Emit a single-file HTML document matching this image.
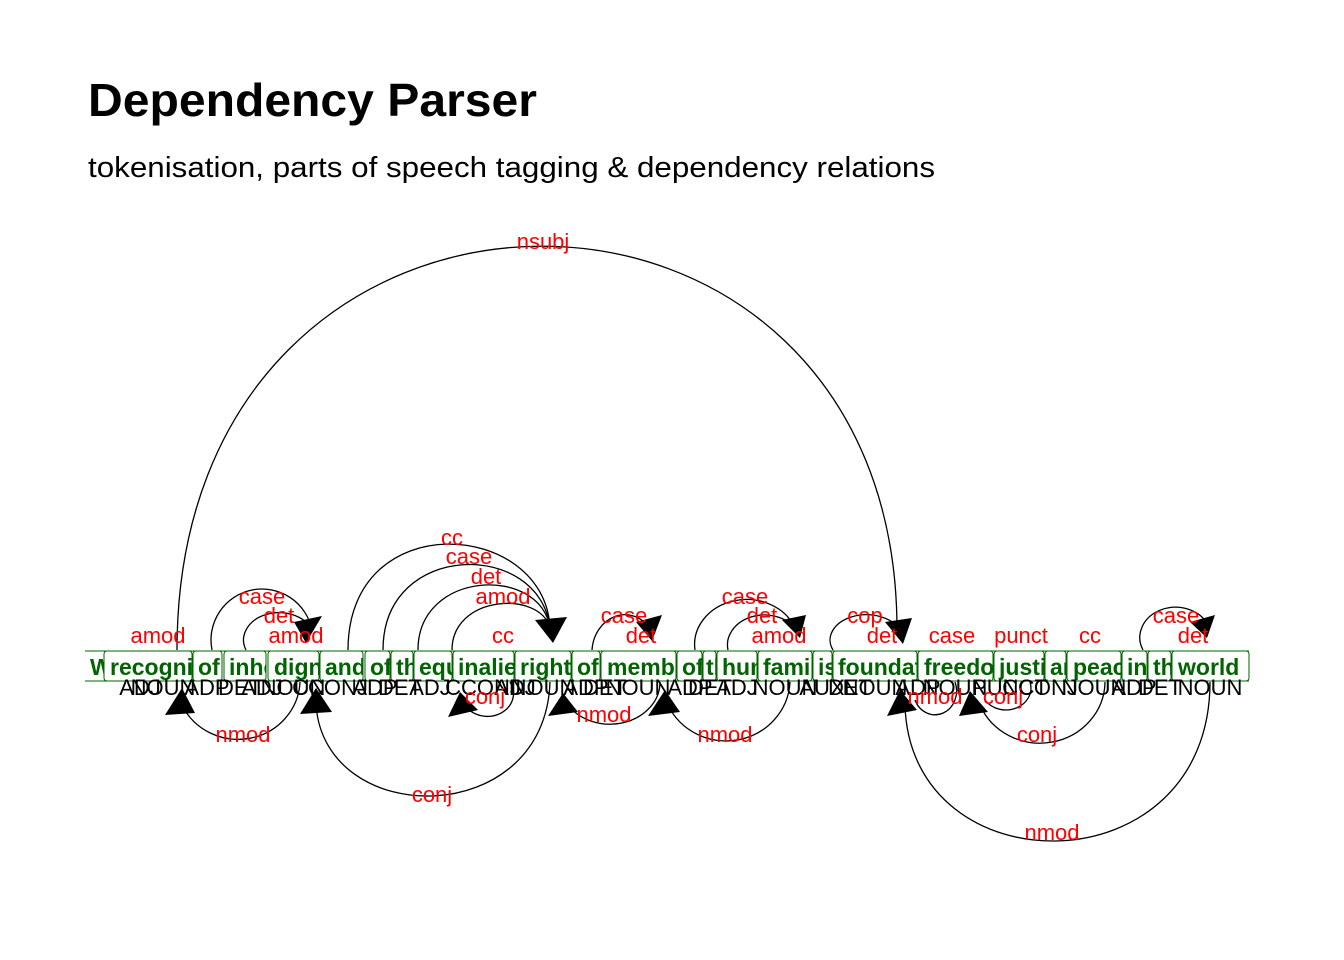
<!DOCTYPE html>
<html><head><meta charset="utf-8"><style>
html,body{margin:0;padding:0;background:#fff;}
svg{display:block;}
</style></head><body>
<svg width="1344" height="960" viewBox="0 0 1344 960" xmlns="http://www.w3.org/2000/svg" font-family="Liberation Sans, Arial, sans-serif">
<rect width="1344" height="960" fill="#fff"/>
<text x="88" y="116" font-size="46" font-weight="bold" textLength="449" lengthAdjust="spacingAndGlyphs">Dependency Parser</text>
<text x="88" y="177" font-size="29" textLength="847" lengthAdjust="spacingAndGlyphs">tokenisation, parts of speech tagging &amp; dependency relations</text>

<!-- token row -->
<g stroke="#006400" stroke-width="1" fill="none">
<line x1="85" y1="651" x2="1249" y2="651"/>
<line x1="85" y1="681" x2="1249" y2="681"/>
<rect x="104" y="651" width="88" height="30" rx="3"/>
<rect x="193" y="651" width="29" height="30" rx="3"/>
<rect x="224" y="651" width="42" height="30" rx="3"/>
<rect x="268" y="651" width="51" height="30" rx="3"/>
<rect x="320" y="651" width="43" height="30" rx="3"/>
<rect x="365" y="651" width="25" height="30" rx="3"/>
<rect x="391" y="651" width="22" height="30" rx="3"/>
<rect x="414" y="651" width="38" height="30" rx="3"/>
<rect x="453" y="651" width="61" height="30" rx="3"/>
<rect x="515" y="651" width="56" height="30" rx="3"/>
<rect x="572" y="651" width="28" height="30" rx="3"/>
<rect x="601" y="651" width="75" height="30" rx="3"/>
<rect x="677" y="651" width="25" height="30" rx="3"/>
<rect x="703" y="651" width="13" height="30" rx="3"/>
<rect x="717" y="651" width="40" height="30" rx="3"/>
<rect x="758" y="651" width="54" height="30" rx="3"/>
<rect x="813" y="651" width="19" height="30" rx="3"/>
<rect x="833" y="651" width="84" height="30" rx="3"/>
<rect x="918" y="651" width="75" height="30" rx="3"/>
<rect x="994" y="651" width="50" height="30" rx="3"/>
<rect x="1045" y="651" width="21" height="30" rx="3"/>
<rect x="1067" y="651" width="54" height="30" rx="3"/>
<rect x="1122" y="651" width="25" height="30" rx="3"/>
<rect x="1148" y="651" width="23" height="30" rx="3"/>
<rect x="1172" y="651" width="77" height="30" rx="3"/>
</g>
<g fill="#006400" font-weight="bold" font-size="23">
<svg x="88" y="651" width="16" height="30"><text x="2" y="24">Whereas</text></svg>
<svg x="104" y="651" width="88" height="30"><text x="6" y="24">recognition</text></svg>
<svg x="193" y="651" width="29" height="30"><text x="5" y="24">of</text></svg>
<svg x="224" y="651" width="42" height="30"><text x="5" y="24">inherent</text></svg>
<svg x="268" y="651" width="51" height="30"><text x="6" y="24">dignity</text></svg>
<svg x="320" y="651" width="43" height="30"><text x="5" y="24">and</text></svg>
<svg x="365" y="651" width="25" height="30"><text x="5" y="24">of</text></svg>
<svg x="391" y="651" width="22" height="30"><text x="5" y="24">the</text></svg>
<svg x="414" y="651" width="38" height="30"><text x="5" y="24">equal</text></svg>
<svg x="453" y="651" width="61" height="30"><text x="5" y="24">inalienable</text></svg>
<svg x="515" y="651" width="56" height="30"><text x="5" y="24">rights</text></svg>
<svg x="572" y="651" width="28" height="30"><text x="5" y="24">of</text></svg>
<svg x="601" y="651" width="75" height="30"><text x="6" y="24">members</text></svg>
<svg x="677" y="651" width="25" height="30"><text x="5" y="24">of</text></svg>
<svg x="703" y="651" width="13" height="30"><text x="3" y="24">the</text></svg>
<svg x="717" y="651" width="40" height="30"><text x="5" y="24">human</text></svg>
<svg x="758" y="651" width="54" height="30"><text x="5" y="24">family</text></svg>
<svg x="813" y="651" width="19" height="30"><text x="5" y="24">is</text></svg>
<svg x="833" y="651" width="84" height="30"><text x="5" y="24">foundation</text></svg>
<svg x="918" y="651" width="75" height="30"><text x="6" y="24">freedom</text></svg>
<svg x="994" y="651" width="50" height="30"><text x="5" y="24">justice</text></svg>
<svg x="1045" y="651" width="21" height="30"><text x="5" y="24">and</text></svg>
<svg x="1067" y="651" width="54" height="30"><text x="6" y="24">peace</text></svg>
<svg x="1122" y="651" width="25" height="30"><text x="5" y="24">in</text></svg>
<svg x="1148" y="651" width="23" height="30"><text x="5" y="24">the</text></svg>
<svg x="1172" y="651" width="77" height="30"><text x="6" y="24">world</text></svg>
</g>
<g fill="#000" font-size="22" text-anchor="middle">
<text x="140" y="695">ADJ</text><text x="163" y="695">NOUN</text><text x="207" y="695">ADP</text>
<text x="240" y="695">DET</text><text x="262" y="695">ADJ</text><text x="293" y="695">NOUN</text>
<text x="330" y="695">CCONJ</text><text x="375" y="695">ADP</text><text x="400" y="695">DET</text>
<text x="430" y="695">ADJ</text><text x="483" y="695">CCONJ</text><text x="515" y="695">ADJ</text>
<text x="543" y="695">NOUN</text><text x="586" y="695">ADP</text><text x="605" y="695">DET</text>
<text x="638" y="695">NOUN</text><text x="690" y="695">ADP</text><text x="710" y="695">DET</text>
<text x="737" y="695">ADJ</text><text x="785" y="695">NOUN</text><text x="822" y="695">AUX</text>
<text x="850" y="695">DET</text><text x="875" y="695">NOUN</text><text x="918" y="695">ADP</text>
<text x="955" y="695">NOUN</text><text x="1010" y="695">PUNCT</text><text x="1040" y="695">CCONJ</text>
<text x="1094" y="695">NOUN</text><text x="1134" y="695">ADP</text><text x="1160" y="695">DET</text>
<text x="1210" y="695">NOUN</text>
</g>

<!-- arcs -->
<g stroke="#000" stroke-width="1.3" fill="none">
<path d="M177 650 C177 115, 897 115, 897 630"/>
<path d="M212 650 A50 50 0 0 1 312 630"/>
<path d="M246 650 A35 27 0 0 1 312 630"/>
<path d="M348 650 C348 505, 545 520, 550 628"/>
<path d="M383 650 C383 540, 540 540, 550 628"/>
<path d="M418 650 C418 570, 540 565, 550 628"/>
<path d="M452 650 C452 595, 540 590, 550 628"/>
<path d="M592 650 A33 38 0 0 1 650 628"/>
<path d="M695 650 A52 45 0 0 1 795 628"/>
<path d="M728 650 A37 30 0 0 1 795 628"/>
<path d="M833 650 A36 25 0 0 1 900 630"/>
<path d="M1143 650 A33 28 0 0 1 1208 625"/>
<path d="M300 682 A62 60 0 0 1 182 705"/>
<path d="M550 682 C545 830, 325 830, 316 705"/>
<path d="M510 682 A25 22 0 0 1 465 705"/>
<path d="M660 682 A50 42 0 0 1 568 705"/>
<path d="M790 682 A64 62 0 0 1 668 705"/>
<path d="M1210 682 C1210 890, 910 890, 905 705"/>
<path d="M955 682 A20 22 0 0 1 915 700"/>
<path d="M1030 682 A25 22 0 0 1 985 700"/>
<path d="M1105 682 A65 62 0 0 1 980 705"/>
</g>
<g fill="#000">
<polygon points="306,643 294,622 322,616"/>
<polygon points="553,643 535,620 567,617"/>
<polygon points="652,641 636,622 662,615"/>
<polygon points="800,638 782,620 806,615"/>
<polygon points="903,644 885,622 912,618"/>
<polygon points="1207,638 1190,622 1215,615"/>
<polygon points="182,688 165,715 195,713"/>
<polygon points="316,688 300,714 332,712"/>
<polygon points="448,717 460,692 478,710"/>
<polygon points="563,693 548,716 578,712"/>
<polygon points="665,690 648,716 680,712"/>
<polygon points="900,690 887,716 917,710"/>
<polygon points="970,691 959,716 988,712"/>
</g>
<g fill="#f00" font-size="22" text-anchor="middle">
<text x="543" y="249">nsubj</text>
<text x="158" y="643">amod</text>
<text x="262" y="604">case</text>
<text x="279" y="623">det</text>
<text x="296" y="643">amod</text>
<text x="452" y="545">cc</text>
<text x="469" y="564">case</text>
<text x="486" y="584">det</text>
<text x="503" y="604">amod</text>
<text x="503" y="643">cc</text>
<text x="624" y="623">case</text>
<text x="641" y="643">det</text>
<text x="745" y="604">case</text>
<text x="762" y="623">det</text>
<text x="779" y="643">amod</text>
<text x="865" y="623">cop</text>
<text x="882" y="643">det</text>
<text x="952" y="643">case</text>
<text x="1021" y="643">punct</text>
<text x="1090" y="643">cc</text>
<text x="1176" y="623">case</text>
<text x="1193" y="643">det</text>
<text x="243" y="742">nmod</text>
<text x="432" y="802">conj</text>
<text x="485" y="704">conj</text>
<text x="604" y="722">nmod</text>
<text x="725" y="742">nmod</text>
<text x="1052" y="840">nmod</text>
<text x="935" y="704">nmod</text>
<text x="1003" y="704">conj</text>
<text x="1037" y="742">conj</text>
</g>
</svg>
</body></html>
